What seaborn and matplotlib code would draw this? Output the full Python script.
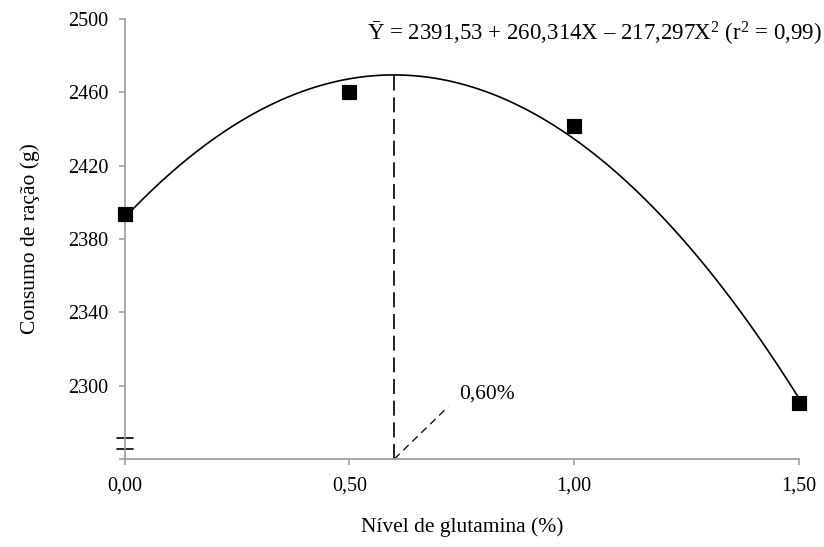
import numpy as np
import pandas as pd
import matplotlib
matplotlib.use("Agg")
import matplotlib.pyplot as plt
import matplotlib.transforms as mtransforms
import seaborn as sns

# Data
glutamina = [0.0, 0.5, 1.0, 1.5]
consumo = [2393.5, 2460.0, 2441.5, 2290.5]
x_ticks = [0.0, 0.5, 1.0, 1.5]
x_tick_labels = ["0,00", "0,50", "1,00", "1,50"]
y_ticks = [2260, 2300, 2340, 2380, 2420, 2460, 2500]
y_tick_labels = ["", "2300", "2340", "2380", "2420", "2460", "2500"]
coef_b0, coef_b1, coef_b2 = 2391.53, 260.314, -217.297
x_opt = 0.60
label_opt = "0,60%"
equation = r"Ȳ = 2391,53 + 260,314X – 217,297X$^{\mathregular{2}}$ (r$^{\mathregular{2}}$ = 0,99)"

sns.set_theme(style="ticks")
plt.rcParams["font.family"] = ["Liberation Serif", "DejaVu Serif"]
plt.rcParams["mathtext.fontset"] = "custom"
plt.rcParams["mathtext.rm"] = "Liberation Serif"
plt.rcParams["mathtext.it"] = "Liberation Serif:italic"

fig = plt.figure(figsize=(8.24, 5.47), dpi=100)
ax = fig.add_axes([0.1511, 0.1609, 0.9697 - 0.1511, 0.9653 - 0.1609])

# fitted curve from regression equation
xf = np.linspace(0, 1.5, 300)
yf = coef_b0 + coef_b1 * xf + coef_b2 * xf ** 2
sns.lineplot(x=xf, y=yf, ax=ax, color="black", linewidth=1.2)

df = pd.DataFrame({"x": glutamina, "y": consumo})
sns.scatterplot(data=df, x="x", y="y", ax=ax, marker="s", s=110,
                color="black", edgecolor="black", zorder=5, clip_on=False)

y_opt = coef_b0 + coef_b1 * x_opt + coef_b2 * x_opt ** 2
ax.plot([x_opt, x_opt], [2260, y_opt], color="black", linewidth=1.2,
        dashes=(9, 4))
ax.plot([x_opt, 0.72], [2260, 2288.6], color="black", linewidth=0.9,
        dashes=(6, 4))
ax.text(0.7445, 2290.0, label_opt, fontsize=15.5, ha="left", va="bottom",
        color="black")
ax.text(1.034, 0.998, equation, transform=ax.transAxes, fontsize=16.5,
        ha="right", va="top", color="black")

ax.set_xlim(0, 1.5)
ax.set_ylim(2260, 2500)
ax.set_xticks(x_ticks)
ax.set_xticklabels(x_tick_labels)
ax.set_yticks(y_ticks)
ax.set_yticklabels(y_tick_labels)
ax.tick_params(axis="both", labelsize=14.5, colors="#9a9a9a", labelcolor="black",
               length=4.5, width=1.1, direction="out")
ax.tick_params(axis="x", pad=8)
ax.tick_params(axis="y", pad=7)

for side in ["top", "right"]:
    ax.spines[side].set_visible(False)
for side in ["left", "bottom"]:
    ax.spines[side].set_color("#9a9a9a")
    ax.spines[side].set_linewidth(1.2)

# axis break marks
trans = mtransforms.blended_transform_factory(ax.transAxes, ax.transData)
dx = 8.0 / (799 - 124.5)
for yb in [2271.3, 2265.5]:
    ax.plot([-dx, dx], [yb, yb], transform=trans, color="black",
            linewidth=1.2, clip_on=False)

ax.set_xlabel("Nível de glutamina (%)", fontsize=15.5, labelpad=16, color="black")
ax.set_ylabel("Consumo de ração (g)", fontsize=15.5, labelpad=20, color="black")

fig.savefig("out.png", dpi=100, facecolor="white")
